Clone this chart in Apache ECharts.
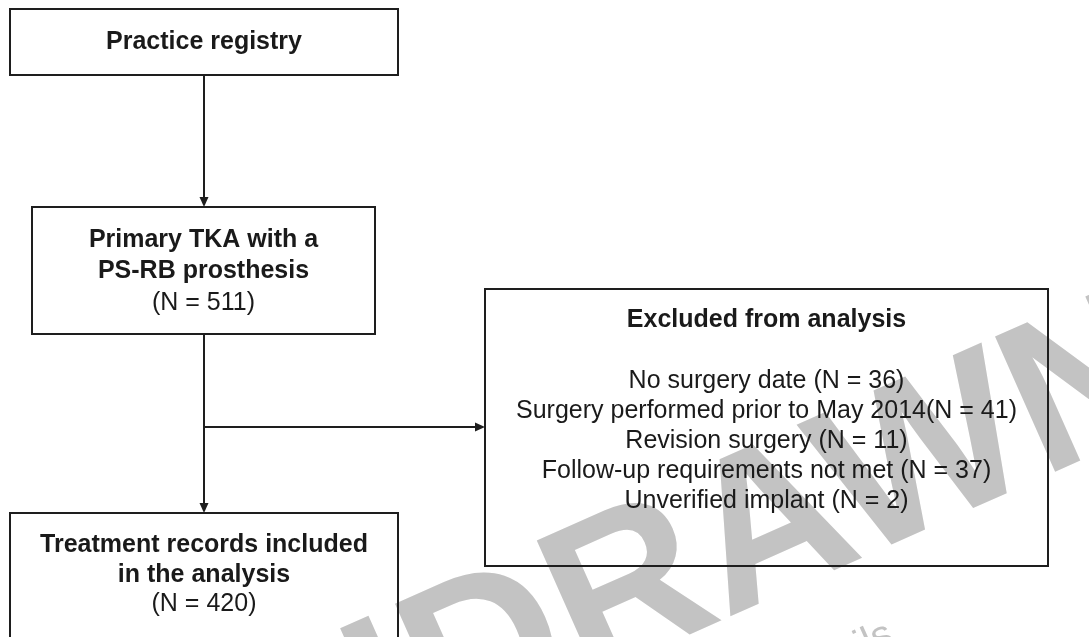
<!DOCTYPE html>
<html>
<head>
<meta charset="utf-8">
<script src="https://cdn.jsdelivr.net/npm/echarts@6/dist/echarts.min.js"></script>
<style>
html,body{margin:0;padding:0;background:#fff;}
#chart{width:1089px;height:637px;}
</style>
</head>
<body>
<div id="chart"></div>
<script>
// ---- data ----
const stageTitles = [['Practice registry'], ['Primary TKA with a', 'PS-RB prosthesis'], ['Treatment records included', 'in the analysis']];
const stageCounts = [null, 511, 420];
const exclusionTitle = 'Excluded from analysis';
const exclusionReasons = ['No surgery date ', 'Surgery performed prior to May 2014', 'Revision surgery ', 'Follow-up requirements not met ', 'Unverified implant '];
const exclusionCounts = [36, 41, 11, 37, 2];
const watermarkText = 'WITHDRAWN';
const watermarkNote = 'see manuscript DOI for details';

// ---- layout (pixels in a 1089 x 637 frame) ----
const FONT = '"Liberation Sans", Arial, Helvetica, sans-serif';
const stageBoxes = [
  {x: 10, y: 9, w: 388, h: 66, lines: [42]},
  {x: 32, y: 207, w: 343, h: 127, lines: [240, 271, 303]},
  {x: 10, y: 513, w: 388, h: 160, lines: [545, 575, 604]}
];
const exclBox = {x: 485, y: 289, w: 563, h: 277, title: 320, lines: [381, 411, 441, 471, 501]};
const arrows = [
  [[204, 75], [204, 207]],
  [[204, 334], [204, 513]],
  [[204, 427], [485, 427]]
];

function countText(n){ return '(N = ' + n + ')'; }

const chart = echarts.init(document.getElementById('chart'), null, {renderer: 'canvas'});

function textEl(api, x, y, str, bold, size){
  const p = api.coord([x, y]);
  return {
    type: 'text', z2: 10,
    style: {
      x: p[0], y: p[1], text: str, fill: '#1a1a1a',
      font: (bold ? 'bold ' : '') + size + 'px ' + FONT,
      align: 'center', verticalAlign: 'middle'
    }
  };
}

const WM_ANGLE = 24 * Math.PI / 180;
const option = {
  animation: false,
  backgroundColor: '#ffffff',
  grid: {left: 0, right: 0, top: 0, bottom: 0},
  xAxis: {type: 'value', min: 0, max: 1089, show: false},
  yAxis: {type: 'value', min: 0, max: 637, inverse: true, show: false},
  graphic: [
    {
      type: 'text', z: -10, rotation: WM_ANGLE, x: -84, y: 914,
      style: {text: watermarkText, font: 'bold 215px ' + FONT, fill: '#c3c3c3', align: 'left', verticalAlign: 'middle'}
    },
    {
      type: 'text', z: -10, rotation: WM_ANGLE, x: 891, y: 633,
      style: {text: watermarkNote, font: '40px ' + FONT, fill: '#c3c3c3', align: 'right', verticalAlign: 'middle'}
    }
  ],
  series: [
    {
      type: 'custom', coordinateSystem: 'cartesian2d', z: 5,
      data: stageTitles.map((t, i) => [i]),
      renderItem: function(params, api){
        const i = params.dataIndex;
        const L = stageBoxes[i];
        const p0 = api.coord([L.x, L.y]);
        const p1 = api.coord([L.x + L.w, L.y + L.h]);
        const children = [{
          type: 'rect',
          shape: {x: p0[0], y: p0[1], width: p1[0] - p0[0], height: p1[1] - p0[1]},
          style: {fill: 'none', stroke: '#1e1e1e', lineWidth: 2}
        }];
        const cx = L.x + L.w / 2;
        stageTitles[i].forEach((s, k) => children.push(textEl(api, cx, L.lines[k], s, true, 25)));
        if (stageCounts[i] != null) children.push(textEl(api, cx, L.lines[stageTitles[i].length], countText(stageCounts[i]), false, 25));
        return {type: 'group', children: children};
      }
    },
    {
      type: 'custom', coordinateSystem: 'cartesian2d', z: 5,
      data: [[0]],
      renderItem: function(params, api){
        const L = exclBox;
        const p0 = api.coord([L.x, L.y]);
        const p1 = api.coord([L.x + L.w, L.y + L.h]);
        const cx = L.x + L.w / 2;
        const children = [{
          type: 'rect',
          shape: {x: p0[0], y: p0[1], width: p1[0] - p0[0], height: p1[1] - p0[1]},
          style: {fill: 'none', stroke: '#1e1e1e', lineWidth: 2}
        }, textEl(api, cx, L.title, exclusionTitle, true, 25)];
        exclusionReasons.forEach((r, k) => children.push(textEl(api, cx, L.lines[k], r + countText(exclusionCounts[k]), false, 25)));
        return {type: 'group', children: children};
      }
    },
    {
      type: 'custom', coordinateSystem: 'cartesian2d', z: 6,
      data: arrows.map((a, i) => [i]),
      renderItem: function(params, api){
        const a = arrows[params.dataIndex];
        const s = api.coord(a[0]);
        const e = api.coord(a[1]);
        const dx = e[0] - s[0], dy = e[1] - s[1];
        const len = Math.sqrt(dx * dx + dy * dy);
        const ux = dx / len, uy = dy / len;
        const hl = 10, hw = 4.5;
        const bx = e[0] - ux * hl, by = e[1] - uy * hl;
        return {type: 'group', children: [
          {type: 'line', shape: {x1: s[0], y1: s[1], x2: bx, y2: by}, style: {stroke: '#1e1e1e', lineWidth: 2}},
          {type: 'polygon', shape: {points: [[e[0], e[1]], [bx - uy * hw, by + ux * hw], [bx + uy * hw, by - ux * hw]]}, style: {fill: '#1e1e1e'}}
        ]};
      }
    }
  ]
};
chart.setOption(option);
</script>
</body>
</html>
